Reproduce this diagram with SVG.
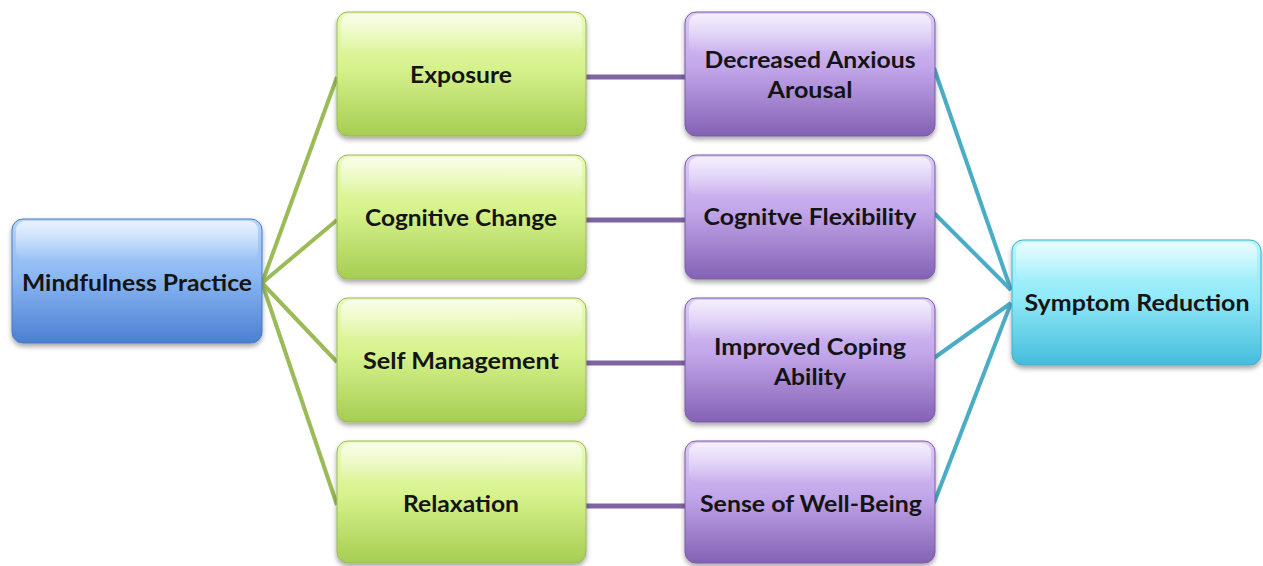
<svg xmlns="http://www.w3.org/2000/svg" width="1263" height="566" viewBox="0 0 1263 566">
<defs>
<linearGradient id="gBlue" x1="0" y1="0" x2="0" y2="1">
<stop offset="0" stop-color="#b6d6fc"/><stop offset="0.45" stop-color="#8cb9f3"/><stop offset="1" stop-color="#4a80d2"/>
</linearGradient>
<linearGradient id="gGreen" x1="0" y1="0" x2="0" y2="1">
<stop offset="0" stop-color="#eafbb6"/><stop offset="0.45" stop-color="#d6f28c"/><stop offset="1" stop-color="#a6cd52"/>
</linearGradient>
<linearGradient id="gPurple" x1="0" y1="0" x2="0" y2="1">
<stop offset="0" stop-color="#dccbf8"/><stop offset="0.45" stop-color="#c2a6ea"/><stop offset="1" stop-color="#8461b4"/>
</linearGradient>
<linearGradient id="gCyan" x1="0" y1="0" x2="0" y2="1">
<stop offset="0" stop-color="#b4f6fe"/><stop offset="0.45" stop-color="#93eaf9"/><stop offset="1" stop-color="#45bcdc"/>
</linearGradient>
<linearGradient id="gloss" x1="0" y1="0" x2="0" y2="1">
<stop offset="0" stop-color="#ffffff" stop-opacity="0.7"/><stop offset="1" stop-color="#ffffff" stop-opacity="0"/>
</linearGradient>
<filter id="shadow" x="-10%" y="-10%" width="120%" height="130%">
<feDropShadow dx="0" dy="3" stdDeviation="2.5" flood-color="#000000" flood-opacity="0.35"/>
</filter>
</defs>
<style>
.box{filter:url(#shadow);}
.blue{fill:url(#gBlue);stroke:#4a78c0;stroke-width:1;}
.green{fill:url(#gGreen);stroke:#98b857;stroke-width:1;}
.purple{fill:url(#gPurple);stroke:#7a5aa4;stroke-width:1;}
.cyan{fill:url(#gCyan);stroke:#3fb0cc;stroke-width:1;}
.gl{fill:url(#gloss);}
text{font-family:Lato,"Open Sans","Liberation Sans",sans-serif;font-weight:bold;font-size:22px;fill:#141414;text-anchor:middle;}
.cg{stroke:#9bbb59;stroke-width:4;fill:none;}
.cp{stroke:#8064a2;stroke-width:5;fill:none;}
.ct{stroke:#4bacc6;stroke-width:4;fill:none;}
</style>
<g id="connectors">
<line class="cg" x1="262" y1="283" x2="337" y2="77"/>
<line class="cg" x1="262" y1="283" x2="337" y2="220"/>
<line class="cg" x1="262" y1="283" x2="337" y2="362"/>
<line class="cg" x1="262" y1="283" x2="337" y2="505"/>
<line class="cp" x1="586" y1="77" x2="685" y2="77"/>
<line class="cp" x1="586" y1="220" x2="685" y2="220"/>
<line class="cp" x1="586" y1="363" x2="685" y2="363"/>
<line class="cp" x1="586" y1="506" x2="685" y2="506"/>
<line class="ct" x1="934" y1="68" x2="1011" y2="290"/>
<line class="ct" x1="934" y1="213" x2="1011" y2="290"/>
<line class="ct" x1="934" y1="358" x2="1011" y2="303"/>
<line class="ct" x1="934" y1="503" x2="1011" y2="303"/>
</g>
<g id="mindfulness">
<rect class="box blue" x="12" y="219" width="250" height="124" rx="11"/>
<rect class="gl" x="16" y="221" width="242" height="40" rx="9"/>
<text x="137" y="291" textLength="230" lengthAdjust="spacingAndGlyphs">Mindfulness Practice</text>
</g>
<g id="exposure">
<rect class="box green" x="337" y="12" width="249" height="124" rx="11"/>
<rect class="gl" x="341" y="14" width="241" height="40" rx="9"/>
<text x="461" y="83" textLength="102" lengthAdjust="spacingAndGlyphs">Exposure</text>
</g>
<g id="cognitive">
<rect class="box green" x="337" y="155" width="249" height="124" rx="11"/>
<rect class="gl" x="341" y="157" width="241" height="40" rx="9"/>
<text x="461" y="226" textLength="192" lengthAdjust="spacingAndGlyphs">Cognitive Change</text>
</g>
<g id="selfmanagement">
<rect class="box green" x="337" y="298" width="249" height="124" rx="11"/>
<rect class="gl" x="341" y="300" width="241" height="40" rx="9"/>
<text x="461" y="369" textLength="196" lengthAdjust="spacingAndGlyphs">Self Management</text>
</g>
<g id="relaxation">
<rect class="box green" x="337" y="441" width="249" height="122" rx="11"/>
<rect class="gl" x="341" y="443" width="241" height="40" rx="9"/>
<text x="461" y="512" textLength="116" lengthAdjust="spacingAndGlyphs">Relaxation</text>
</g>
<g id="anxious">
<rect class="box purple" x="685" y="12" width="250" height="124" rx="11"/>
<rect class="gl" x="689" y="14" width="242" height="40" rx="9"/>
<text x="810" y="68" textLength="211" lengthAdjust="spacingAndGlyphs">Decreased Anxious</text>
<text x="810" y="98" textLength="85" lengthAdjust="spacingAndGlyphs">Arousal</text>
</g>
<g id="flexibility">
<rect class="box purple" x="685" y="155" width="250" height="124" rx="11"/>
<rect class="gl" x="689" y="157" width="242" height="40" rx="9"/>
<text x="810" y="225" textLength="213" lengthAdjust="spacingAndGlyphs">Cognitve Flexibility</text>
</g>
<g id="coping">
<rect class="box purple" x="685" y="298" width="250" height="124" rx="11"/>
<rect class="gl" x="689" y="300" width="242" height="40" rx="9"/>
<text x="810" y="355" textLength="192" lengthAdjust="spacingAndGlyphs">Improved Coping</text>
<text x="810" y="385" textLength="72" lengthAdjust="spacingAndGlyphs">Ability</text>
</g>
<g id="wellbeing">
<rect class="box purple" x="685" y="441" width="250" height="122" rx="11"/>
<rect class="gl" x="689" y="443" width="242" height="40" rx="9"/>
<text x="811" y="512" textLength="222" lengthAdjust="spacingAndGlyphs">Sense of Well-Being</text>
</g>
<g id="symptom">
<rect class="box cyan" x="1012" y="240" width="249" height="125" rx="11"/>
<rect class="gl" x="1016" y="242" width="241" height="40" rx="9"/>
<text x="1137" y="311" textLength="225" lengthAdjust="spacingAndGlyphs">Symptom Reduction</text>
</g>
</svg>
